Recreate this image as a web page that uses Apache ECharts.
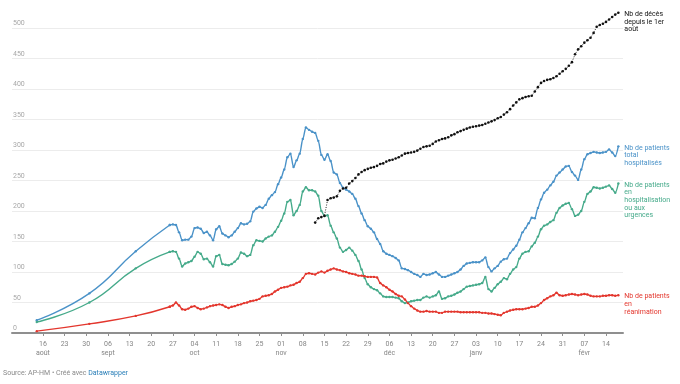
<!DOCTYPE html>
<html><head><meta charset="utf-8">
<script src="https://cdn.jsdelivr.net/npm/echarts@6/dist/echarts.min.js"></script>
<style>html,body{margin:0;padding:0;background:#fff}#c{width:680px;height:384px}</style>
</head><body><div id="c"></div>
<script>
// ---- data ----
const earlyDates = ['2020-08-14', '2020-08-31', '2020-09-15'];
const earlyTotal = [21, 65, 134];
const earlyUrg = [18, 50, 106];
const earlyRea = [3, 15, 28];

const dailyStart = '2020-09-26'; // daily values from here to 2021-02-18
const totalHosp = [
  177,178,177,165,152,
  153,153,158,172,173,171,164,166,160,152, 170,175,163,160,157,160,166,172,180,178, 179,183,199,204,207,205,210,220,226,231, 244,
  255,268,288,294,272,283,294,318,337,333, 330,328,315,292,284,293,282,263,260,246, 238,235,232,228,220,208,196,185,175,171,
  165,154,146,134,130,128,126,123,119,106, 105,103,100,97,95,92,97,95,96,98, 100,96,92,92,94,96,98,100,104,110, 114,
  115,116,116,116,119,124,108,101,106,110, 117,121,122,131,137,143,153,165,172,180, 189,188,205,219,230,235,242,248,258,263, 268,
  273,274,264,258,251,268,285,293,295,297, 296,295,296,297,301,296,290,306
];
const hospUrg = [
  133,134,133,122,109,
  114,116,118,125,133,130,121,122,116,109, 126,128,113,112,111,113,117,122,132,130, 126,128,144,152,151,150,155,158,160,166, 174,
  184,196,215,218,193,200,210,232,239,234, 234,232,225,200,192,193,176,165,155,140, 133,136,140,135,128,118,104,90,80,75,
  72,70,65,60,59,59,59,58,57,52, 49,50,52,53,54,54,58,60,58,60, 62,68,56,57,60,61,63,66,68,72, 76,
  77,78,79,80,82,92,72,68,74,80, 84,90,88,97,104,108,122,130,133,134, 142,148,158,170,176,178,182,185,197,205, 209,
  212,213,203,192,194,200,215,228,232,239, 238,237,238,240,242,236,230,245
];
const reanim = [
  43,45,50,45,39,
  38,40,43,44,41,39,40,42,44,45, 46,47,46,43,41,43,44,46,47,49, 50,52,53,54,56,60,61,62,64,68, 71,
  74,75,76,78,79,82,84,90,97,98, 97,96,99,101,99,102,104,106,104,103, 101,100,98,97,96,94,94,93,92,92,
  92,91,82,78,75,71,68,64,61,60, 55,49,44,40,37,35,35,36,35,35, 35,33,33,35,35,35,35,35,34,34, 34,
  34,34,34,34,33,33,32,32,31,30, 29,33,35,37,38,39,39,39,40,41, 43,43,45,49,54,57,60,62,66,62, 61,
  62,63,64,63,62,63,64,63,61,60, 60,60,61,61,62,62,61,62
];
const deathsStart = '2020-11-12';
const deaths = [
  181,188,190,192,218,221,222,224,233,237, 238,245,249,254,260,264,267,269,271,
  272,274,277,278,281,283,284,286,288,291, 294,295,296,297,299,302,305,306,307,310, 314,316,318,319,321,324,326,329,331,333, 335,
  337,338,339,340,341,343,345,347,349,352, 354,358,362,367,373,378,383,385,387,388, 389,396,403,410,413,415,416,418,421,425, 429,
  433,438,444,457,465,470,476,480,484,492, 502,505,507,510,514,518,522,525
];

const tickDates = ['2020-08-16','2020-08-23','2020-08-30','2020-09-06','2020-09-13','2020-09-20','2020-09-27',
  '2020-10-04','2020-10-11','2020-10-18','2020-10-25','2020-11-01','2020-11-08','2020-11-15','2020-11-22','2020-11-29',
  '2020-12-06','2020-12-13','2020-12-20','2020-12-27','2021-01-03','2021-01-10','2021-01-17','2021-01-24','2021-01-31',
  '2021-02-07','2021-02-14'];
const tickLabels = ['16\naoût','23','30','06\nsept','13','20','27','04\noct','11','18','25','01\nnov','08','15','22','29',
  '06\ndéc','13','20','27','03\njanv','10','17','24','31','07\nfévr','14'];

const seriesNames = ['Nb de patients\ntotal\nhospitalisés', 'Nb de patients\nen\nhospitalisation\nou aux\nurgences',
  'Nb de patients\nen\nréanimation', 'Nb de décès\ndepuis le 1er\naoût'];
const colors = ['#4a92c8', '#45aa8a', '#e3362d', '#111111'];

// ---- helpers: dates -> day numbers (days since 2020-08-16) ----
const DAY = 864e5;
const utc = s => { const p = s.split('-').map(Number); return Date.UTC(p[0], p[1] - 1, p[2]); };
const ORIGIN = utc('2020-08-16');
const dayNum = s => Math.round((utc(s) - ORIGIN) / DAY);
function dayList(start, n) { const s0 = dayNum(start); const out = []; for (let i = 0; i < n; i++) out.push(s0 + i); return out; }
const pairs = (xs, vals) => xs.map((x, i) => [x, vals[i]]);

const earlyX = earlyDates.map(dayNum);
const dailyX = dayList(dailyStart, totalHosp.length);
const deathX = dayList(deathsStart, deaths.length);
const tickVals = tickDates.map(dayNum);

const FONT = 'Roboto';
function baseLine(idx, data, extra) {
  return Object.assign({
    type: 'line', name: seriesNames[idx], data: data,
    symbol: 'circle', symbolSize: 2.4, showSymbol: true,
    itemStyle: { color: colors[idx] },
    lineStyle: { color: colors[idx], width: 1.4 },
    clip: false, silent: true
  }, extra || {});
}
function dailyLine(idx, data, extra) {
  return baseLine(idx, data, Object.assign({
    smooth: 0.3, smoothMonotone: 'x',
    endLabel: {
      show: true, formatter: seriesNames[idx], color: colors[idx], fontFamily: FONT,
      fontSize: 7, lineHeight: 7.6, align: 'left', verticalAlign: 'top', distance: 6, offset: [0, -2.3]
    }
  }, extra || {}));
}
function earlyLine(idx, xs, vals, dailyVals) {
  // sparse early reports, curved, joined to the first daily report
  return baseLine(idx, pairs(xs, vals).concat([[dailyX[0], dailyVals[0]]]), { smooth: 0.5 });
}

const chart = echarts.init(document.getElementById('c'), null, { renderer: 'canvas' });
chart.setOption({
  animation: false,
  backgroundColor: '#fff',
  grid: { left: 12, right: 57, top: 28, bottom: 51 },
  xAxis: {
    type: 'value', min: dayNum('2020-08-06'), max: dayNum('2021-02-19') + 0.5,
    axisLine: { show: true, onZero: false, lineStyle: { color: '#8f8f8f', width: 2 } },
    axisTick: { show: true, customValues: tickVals, length: 3, lineStyle: { color: '#8f8f8f', width: 1 } },
    axisLabel: {
      customValues: tickVals, color: '#858585', fontFamily: FONT, fontSize: 7, lineHeight: 8.5, margin: 7,
      formatter: v => { const i = tickVals.indexOf(v); return i >= 0 ? tickLabels[i] : ''; }
    },
    splitLine: { show: false }
  },
  yAxis: {
    type: 'value', min: 0, max: 500, interval: 50,
    axisLine: { show: false }, axisTick: { show: false },
    axisLabel: { inside: true, margin: 1, verticalAlign: 'bottom', padding: [0, 0, 1, 0], color: '#a8a8a8', fontFamily: FONT, fontSize: 7 },
    splitLine: { lineStyle: { color: '#ececec', width: 1 } }
  },
  series: [
    earlyLine(0, earlyX, earlyTotal, totalHosp),
    earlyLine(1, earlyX, earlyUrg, hospUrg),
    earlyLine(2, earlyX, earlyRea, reanim),
    dailyLine(0, pairs(dailyX, totalHosp)),
    dailyLine(1, pairs(dailyX, hospUrg)),
    dailyLine(2, pairs(dailyX, reanim)),
    dailyLine(3, pairs(deathX, deaths), {
      smooth: false, symbolSize: 2.6,
      lineStyle: { color: colors[3], width: 0.9, type: [1, 1.5] }
    })
  ],
  graphic: [{
    type: 'text', left: 3, top: 370,
    style: {
      text: '{a|Source: AP-HM • Créé avec }{b|Datawrapper}',
      rich: {
        a: { fill: '#8a8a8a', fontFamily: FONT, fontSize: 7 },
        b: { fill: '#2a7fb8', fontFamily: FONT, fontSize: 7 }
      }
    }
  }]
});
</script>
</body></html>
